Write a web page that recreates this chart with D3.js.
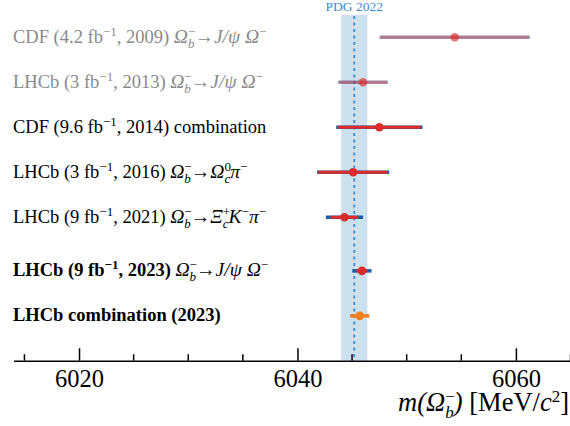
<!DOCTYPE html>
<html>
<head>
<meta charset="utf-8">
<script src="https://cdn.jsdelivr.net/npm/d3@7"></script>
<style>
  body { margin: 0; background: #fff; }
  svg { display: block; font-family: "Liberation Serif", "DejaVu Serif", serif; }
  svg text { font-family: "Liberation Serif", "DejaVu Serif", serif; }
</style>
</head>
<body>
<div id="chart"></div>
<script>
// measurements of m(Omega_b^-) in MeV/c^2
const rowNames = ["CDF 2009", "LHCb 2013", "CDF 2014", "LHCb 2016", "LHCb 2021", "LHCb 2023", "LHCb comb 2023"];
const masses   = [6054.4, 6046.0, 6047.5, 6045.1, 6044.3, 6045.9, 6045.7];
const statErr  = [6.8, 2.2, 3.8, 3.2, 1.25, 0.5, 0.88];
const totalErr = [6.9, 2.3, 3.95, 3.3, 1.7, 0.88, 0.88];

// PDG 2022 average
const pdgMass = 6045.2;
const pdgErr = 1.2;

const xTicksMajor = [6020, 6040, 6060];
const xTicksMinor = [6015, 6025, 6030, 6035, 6045, 6050, 6055, 6065];

// label pieces: [text, kind]  kind: n normal, i italic, b bold, sup, ss = stacked [sub, sup]
const labels = [
  [["CDF (4.2 fb"], ["−1", "sup"], [", 2009) "], ["Ω", "i"], [["b", "−"], "ss"], ["→"], ["J/ψ Ω", "i"], ["−", "sup"]],
  [["LHCb (3 fb"], ["−1", "sup"], [", 2013) "], ["Ω", "i"], [["b", "−"], "ss"], ["→"], ["J/ψ Ω", "i"], ["−", "sup"]],
  [["CDF (9.6 fb"], ["−1", "sup"], [", 2014) combination"]],
  [["LHCb (3 fb"], ["−1", "sup"], [", 2016) "], ["Ω", "i"], [["b", "−"], "ss"], ["→"], ["Ω", "i"], [["c", "0"], "ss"], ["π", "i"], ["−", "sup"]],
  [["LHCb (9 fb"], ["−1", "sup"], [", 2021) "], ["Ω", "i"], [["b", "−"], "ss"], ["→"], ["Ξ", "i"], [["c", "+"], "ss"], ["K", "i"], ["−", "sup"], ["π", "i"], ["−", "sup"]],
  [["LHCb (9 fb", "b"], ["−1", "supb"], [", 2023) ", "b"], ["Ω", "i"], [["b", "−"], "ss"], ["→"], ["J/ψ Ω", "i"], ["−", "sup"]],
  [["LHCb combination (2023)", "b"]]
];

const fadedRows = [0, 1];
const combinedRows = [6];

const W = 570, H = 426;
const svg = d3.select("#chart").append("svg")
  .attr("width", W).attr("height", H);

const x = d3.scaleLinear().domain([6014, 6065]).range([13.5, 570.5]);
// row slots, with extra gap before the 2023 results
const y = d3.scaleLinear().domain([0, 1]).range([37.3, 82.3]);
const rowY = i => y(i + (i >= 5 ? 0.19 : 0));
const axisY = 360.7;

// PDG band + central line
svg.append("rect")
  .attr("x", x(pdgMass - pdgErr)).attr("width", x(pdgMass + pdgErr) - x(pdgMass - pdgErr))
  .attr("y", 15).attr("height", axisY - 15)
  .attr("fill", "#cde0ee");
svg.append("line")
  .attr("x1", x(pdgMass)).attr("x2", x(pdgMass))
  .attr("y1", 16).attr("y2", axisY)
  .attr("stroke", "#3b8bd0").attr("stroke-width", 1.8)
  .attr("stroke-dasharray", "3,3.5");
svg.append("text")
  .attr("x", x(pdgMass)).attr("y", 10.5)
  .attr("text-anchor", "middle")
  .attr("font-size", 13.5)
  .attr("fill", "#3b8bd0")
  .text("PDG 2022");

// axis
const axis = d3.axisBottom(x).tickValues(xTicksMajor).tickSizeInner(-12.4).tickSizeOuter(0).tickFormat(d3.format("d"));
const gAxis = svg.append("g").attr("transform", `translate(0,${axisY})`).call(axis)
  .attr("font-family", null).attr("font-size", null);
gAxis.select(".domain").attr("stroke", "#000").attr("stroke-width", 1.5);
gAxis.selectAll(".tick line").attr("stroke", "#000").attr("stroke-width", 1.5);
gAxis.selectAll(".tick text")
  .attr("y", 26).attr("dy", null)
  .attr("font-size", 24.5).attr("fill", "#000");
gAxis.selectAll(".minor").data(xTicksMinor).enter().append("line")
  .attr("class", "minor")
  .attr("x1", d => x(d)).attr("x2", d => x(d))
  .attr("y1", 0).attr("y2", -6.4)
  .attr("stroke", "#000").attr("stroke-width", 1.5);

// axis title
const title = svg.append("text").attr("x", 569).attr("y", 411).attr("text-anchor", "end").attr("font-size", 26.5);
title.append("tspan").attr("font-style", "italic").text("m(Ω");
title.append("tspan").attr("font-size", 17).attr("dy", -9).text("−");
title.append("tspan").attr("font-style", "italic").attr("font-size", 17).attr("dx", -9.5).attr("dy", 16).text("b");
title.append("tspan").attr("font-style", "italic").attr("dy", -7).text(")");
title.append("tspan").text(" [MeV/");
title.append("tspan").attr("font-style", "italic").text("c");
title.append("tspan").attr("font-size", 17).attr("dy", -9).text("2");
title.append("tspan").attr("dy", 9).text("]");

// labels
const fs = 18.5;
const measure = svg.append("text").attr("visibility", "hidden");
function textWidth(t, size, italic) {
  measure.attr("font-size", size).attr("font-style", italic ? "italic" : "normal").text(t);
  return measure.node().getComputedTextLength();
}

labels.forEach((segs, i) => {
  const faded = fadedRows.includes(i);
  const t = svg.append("text")
    .attr("x", 13).attr("y", rowY(i) + 5.5)
    .attr("font-size", fs)
    .attr("fill", faded ? "#8a8a8a" : "#000");
  let off = 0; // current baseline offset
  segs.forEach(([txt, kind]) => {
    kind = kind || "n";
    if (kind === "n" || kind === "i" || kind === "b") {
      t.append("tspan").attr("dy", -off)
        .attr("font-style", kind === "i" ? "italic" : null)
        .attr("font-weight", kind === "b" ? "bold" : null)
        .attr("font-size", kind === "i" || txt === "→" ? 19.5 : null)
        .text(txt);
      off = 0;
    } else if (kind === "sup" || kind === "supb") {
      t.append("tspan").attr("dy", -7 - off).attr("font-size", 13)
        .attr("font-weight", kind === "supb" ? "bold" : null)
        .text(txt);
      off = -7;
    } else if (kind === "ss") {
      const [sub, sup] = txt;
      t.append("tspan").attr("dy", -7 - off).attr("font-size", 13).text(sup);
      const w = textWidth(sup, 13, false);
      t.append("tspan").attr("dx", -w).attr("dy", 12).attr("font-size", 13)
        .attr("font-style", "italic").text(sub);
      const w2 = textWidth(sub, 13, true);
      if (w > w2) t.append("tspan").attr("dx", w - w2).text("");
      off = 5;
    }
  });
});
measure.remove();

// error bars
const rows = svg.append("g").selectAll("g").data(masses).enter().append("g");
rows.each(function (m, i) {
  const g = d3.select(this);
  const yy = rowY(i);
  const faded = fadedRows.includes(i);
  const comb = combinedRows.includes(i);
  const lineOp = faded ? 0.45 : 1;
  if (!comb) {
    g.append("line")
      .attr("x1", x(m - totalErr[i])).attr("x2", x(m + totalErr[i]))
      .attr("y1", yy).attr("y2", yy)
      .attr("stroke", "#1f5aa6").attr("stroke-width", 3.5).attr("opacity", lineOp);
    g.append("line")
      .attr("x1", x(m - statErr[i])).attr("x2", x(m + statErr[i]))
      .attr("y1", yy).attr("y2", yy)
      .attr("stroke", "#dc2b2b").attr("stroke-width", 3).attr("opacity", lineOp);
  } else {
    g.append("line")
      .attr("x1", x(m - totalErr[i])).attr("x2", x(m + totalErr[i]))
      .attr("y1", yy).attr("y2", yy)
      .attr("stroke", "#f47f1f").attr("stroke-width", 3.5);
  }
  g.append("circle")
    .attr("cx", x(m)).attr("cy", yy).attr("r", 4.3)
    .attr("fill", comb ? "#f47f1f" : "#dc2b2b")
    .attr("opacity", faded ? 0.65 : 1);
});
</script>
</body>
</html>
